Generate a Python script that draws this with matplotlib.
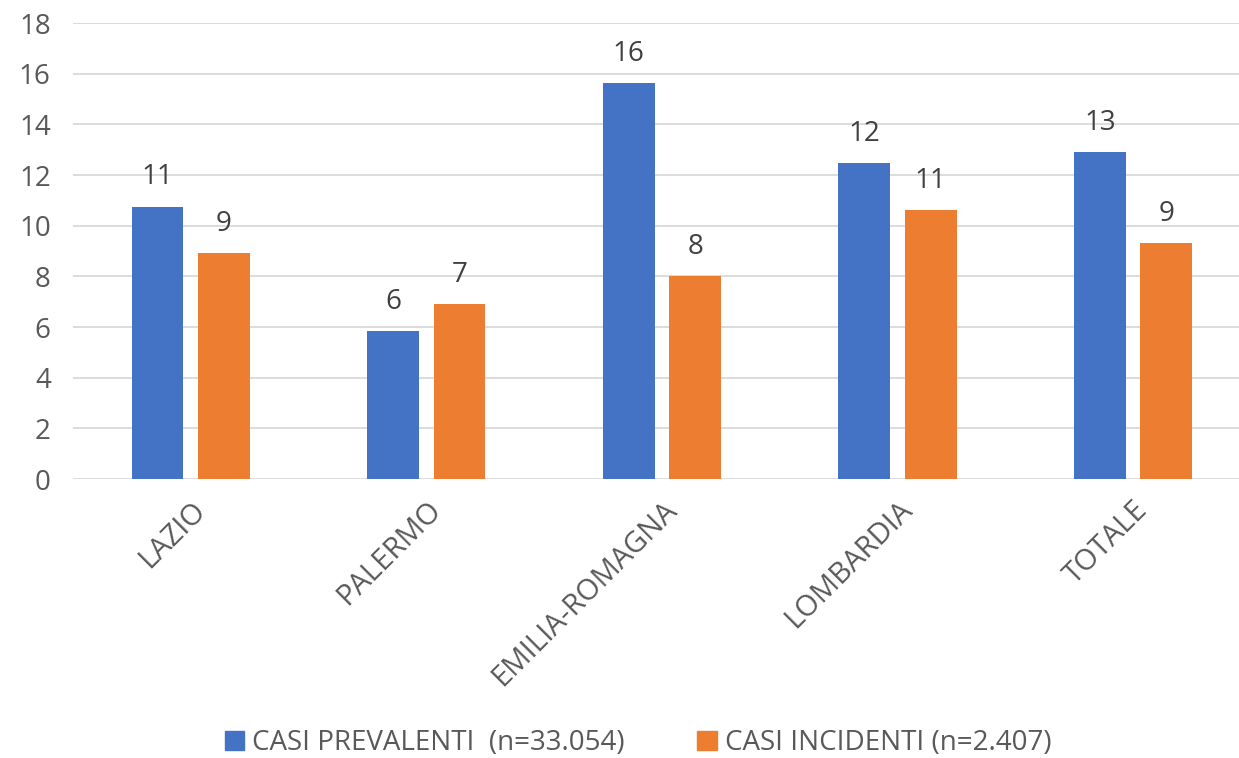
import numpy as np
import matplotlib.pyplot as plt
from matplotlib.patches import Patch

# dati per area
aree = ["LAZIO", "PALERMO", "EMILIA-ROMAGNA", "LOMBARDIA", "TOTALE"]
prevalenti = [10.75, 5.84, 15.63, 12.47, 12.91]
incidenti = [8.92, 6.91, 8.01, 10.62, 9.32]
nome_prev = "CASI PREVALENTI  (n=33.054)"
nome_inc = "CASI INCIDENTI (n=2.407)"

blu = "#4472C4"
arancio = "#ED7D31"
grigio = "#595959"

plt.rcParams['font.family'] = ['Open Sans', 'DejaVu Sans']

fig = plt.figure(figsize=(12.39, 7.58), dpi=100)
ax = fig.add_axes([73/1239, 1 - 479/758, (1239 - 73)/1239, (479 - 23)/758])

x = np.arange(len(aree))
w = 0.22
off = 0.141
b1 = ax.bar(x - off, prevalenti, w, color=blu, zorder=3)
b2 = ax.bar(x + off, incidenti, w, color=arancio, zorder=3)

for barre, valori in ((b1, prevalenti), (b2, incidenti)):
    for b, v in zip(barre, valori):
        ax.text(b.get_x() + b.get_width()/2, v + 0.6, f"{v:.0f}",
                ha='center', va='bottom', fontsize=20, color="#404040")

ax.set_xlim(-0.5, 4.45)
ax.set_ylim(0, 18)
ax.set_yticks(range(0, 19, 2))
ax.yaxis.grid(True, color="#D9D9D9", linewidth=1.3, zorder=0)
for s in ax.spines.values():
    s.set_visible(False)
ax.tick_params(axis='both', length=0, labelsize=20, labelcolor=grigio)
ax.tick_params(axis='y', pad=16)

ax.set_xticks(x)
ax.set_xticklabels(aree, rotation=45, ha='right', rotation_mode='anchor', fontsize=21)
ax.tick_params(axis='x', pad=12)

handles = [Patch(color=blu), Patch(color=arancio)]
fig.legend(handles, [nome_prev, nome_inc], loc='center', bbox_to_anchor=(0.515, 1 - 743/758),
           ncol=2, frameon=False, fontsize=20, labelcolor=grigio,
           handlelength=0.7, handleheight=0.7, handletextpad=0.3, columnspacing=2.6)

fig.savefig("out.png", dpi=100)
